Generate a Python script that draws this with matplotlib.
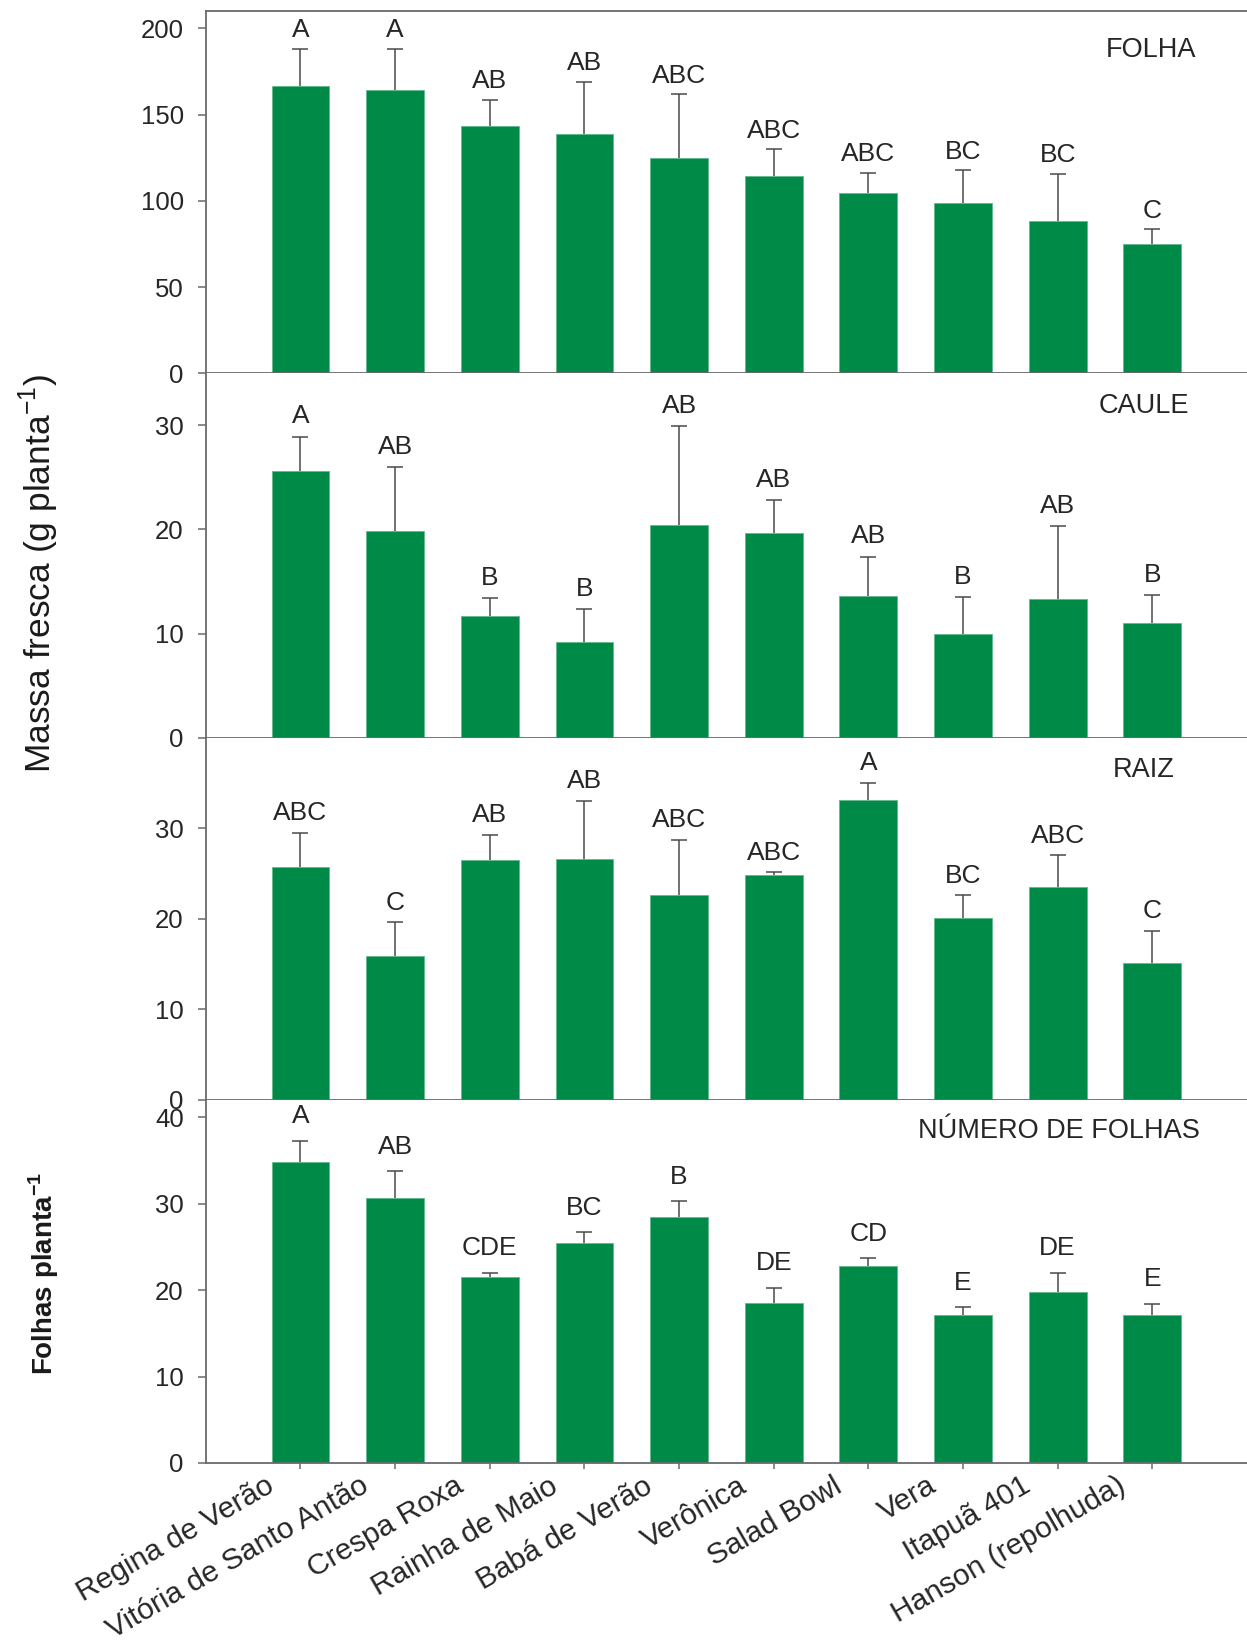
import numpy as np
import matplotlib
matplotlib.use('Agg')
import matplotlib.pyplot as plt
import matplotlib.transforms as mtransforms

plt.rcParams['font.family'] = ['Liberation Sans', 'DejaVu Sans']

cultivares = ['Regina de Verão', 'Vitória de Santo Antão', 'Crespa Roxa',
              'Rainha de Maio', 'Babá de Verão', 'Verônica', 'Salad Bowl',
              'Vera', 'Itapuã 401', 'Hanson (repolhuda)']

# massa fresca de folha (g/planta)
folha = [166.7, 164.2, 143.5, 138.6, 124.6, 114.3, 104.7, 98.7, 88.1, 75.0]
folha_dp = [21.5, 24.0, 15.2, 30.4, 37.1, 15.8, 11.6, 19.0, 27.6, 8.5]
folha_letras = ['A', 'A', 'AB', 'AB', 'ABC', 'ABC', 'ABC', 'BC', 'BC', 'C']

# caule
caule = [25.6, 19.9, 11.65, 9.2, 20.4, 19.7, 13.6, 10.0, 13.3, 11.0]
caule_dp = [3.3, 6.1, 1.75, 3.15, 9.5, 3.1, 3.8, 3.5, 7.0, 2.7]
caule_letras = ['A', 'AB', 'B', 'B', 'AB', 'AB', 'AB', 'B', 'AB', 'B']

# raiz
raiz = [25.7, 15.9, 26.5, 26.65, 22.6, 24.8, 33.1, 20.1, 23.5, 15.1]
raiz_dp = [3.8, 3.7, 2.8, 6.35, 6.1, 0.35, 1.9, 2.5, 3.5, 3.6]
raiz_letras = ['ABC', 'C', 'AB', 'AB', 'ABC', 'ABC', 'A', 'BC', 'ABC', 'C']

# numero de folhas
nfolhas = [34.8, 30.66, 21.5, 25.4, 28.5, 18.5, 22.8, 17.1, 19.75, 17.1]
nfolhas_dp = [2.5, 3.1, 0.5, 1.3, 1.8, 1.8, 0.9, 0.9, 2.25, 1.3]
nfolhas_letras = ['A', 'AB', 'CDE', 'BC', 'B', 'DE', 'CD', 'E', 'DE', 'E']

verde = '#008a47'
cinza = '#6a6a6a'
texto = '#262626'

fig = plt.figure(figsize=(12.47, 16.43), dpi=100)

paineis = [
    (folha, folha_dp, folha_letras, 'FOLHA', (0, 210), [0, 50, 100, 150, 200], 0.7728, 0.2205, 4.5, (0.908, 0.874)),
    (caule, caule_dp, caule_letras, 'CAULE', (0, 35), [0, 10, 20, 30], 0.5510, 0.2218, 6, (0.901, 0.892)),
    (raiz, raiz_dp, raiz_letras, 'RAIZ', (0, 40), [0, 10, 20, 30], 0.3305, 0.2205, 5.5, (0.901, 0.891)),
    (nfolhas, nfolhas_dp, nfolhas_letras, 'NÚMERO DE FOLHAS', (0, 42), [0, 10, 20, 30, 40], 0.1096, 0.2209, 9, (0.819, 0.8945)),
]

x = np.arange(1, len(cultivares) + 1)
for i, (vals, dp, letras, titulo, ylim, yticks, bottom, height, off, tpos) in enumerate(paineis):
    ax = fig.add_axes([0.165, bottom, 0.835, height])
    vals = np.array(vals)
    topo = vals + np.array(dp)
    ax.bar(x, vals, width=0.61, color=verde, edgecolor='#63b98c', linewidth=0.6, zorder=2)
    # so a barra superior do desvio
    ax.vlines(x, vals, topo, color='#4a4a4a', linewidth=1.1, zorder=3)
    ax.plot(x, topo, ls='none', marker='_', ms=11.5, mew=1.1, color='#4a4a4a', zorder=3)
    for xi, t, l in zip(x, topo, letras):
        ax.annotate(l, xy=(xi, t), xytext=(0, off), textcoords='offset points',
                    ha='center', va='bottom', fontsize=19, color=texto)
    ax.text(tpos[0], tpos[1], titulo, transform=ax.transAxes, ha='center', va='baseline',
            fontsize=19.5, color=texto)
    ax.set_xlim(0, 11)
    ax.set_ylim(*ylim)
    ax.set_yticks(yticks)
    ax.spines['right'].set_visible(False)
    if i > 0:
        ax.spines['top'].set_visible(False)
    for s in ['left', 'bottom', 'top']:
        ax.spines[s].set_color(cinza)
        ax.spines[s].set_linewidth(1.3)
    ax.tick_params(axis='y', direction='out', length=5.8, width=1.1, color=cinza,
                   labelsize=18.5, labelcolor=texto, pad=10)
    ax.set_xticks(x)
    if i in (1, 3):
        ax.tick_params(axis='x', direction='out', length=4.3, width=1.1, color=cinza)
    else:
        ax.tick_params(axis='x', length=0)
    if i == 3:
        ax.set_xticklabels(cultivares, rotation=30, ha='right', rotation_mode='anchor',
                           fontsize=21.5, color=texto)
        ax.tick_params(axis='x', pad=2)
        desloc = mtransforms.ScaledTranslation(-0.36, 0, fig.dpi_scale_trans)
        for lab in ax.get_xticklabels():
            lab.set_transform(lab.get_transform() + desloc)
    else:
        ax.set_xticklabels([])

fig.text(0.031, 0.651, r'Massa fresca (g planta$^{\mathregular{-1}}$)', rotation=90,
         ha='center', va='center', fontsize=25.5, color='#1a1a1a')
fig.text(0.0353, 0.225, r'Folhas planta$^{\mathregular{-1}}$', rotation=90,
         ha='center', va='center', fontsize=20, fontweight='bold', color='#1a1a1a')

plt.savefig('out.png', dpi=100)
